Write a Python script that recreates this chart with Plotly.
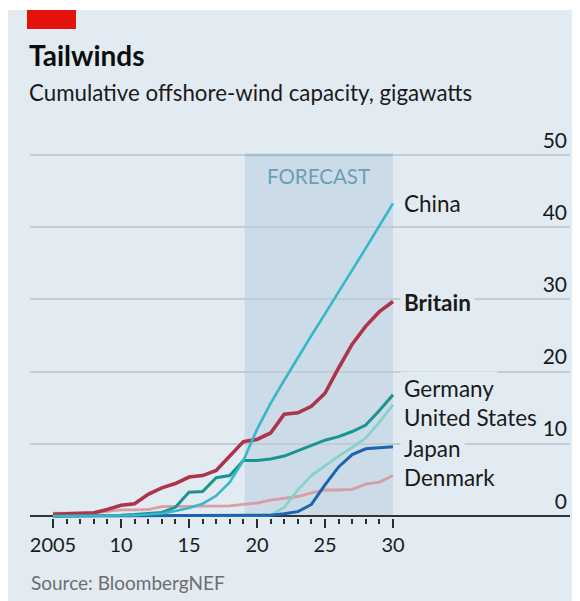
import plotly.graph_objects as go

# ---------------- data ----------------
years = list(range(2005, 2031))

britain = [0.25, 0.3, 0.35, 0.45, 0.9, 1.5, 1.7, 3.0, 3.9, 4.5, 5.4, 5.6, 6.3, 8.3, 10.3, 10.6,
           11.5, 14.1, 14.3, 15.2, 17.0, 20.5, 23.8, 26.3, 28.3, 29.7]
china = [0.0, 0.0, 0.0, 0.0, 0.0, 0.05, 0.1, 0.2, 0.35, 0.7, 1.1, 1.7, 2.8, 4.7, 7.7, 12.0,
         15.6, 18.8, 22.0, 25.0, 28.0, 31.0, 34.0, 37.1, 40.2, 43.3]
germany = [0.0, 0.0, 0.0, 0.0, 0.05, 0.1, 0.2, 0.3, 0.5, 1.2, 3.3, 3.4, 5.3, 5.6, 7.7, 7.7,
           7.9, 8.3, 9.0, 9.8, 10.5, 11.0, 11.7, 12.6, 14.6, 16.8]
united_states = [0.0, 0.0, 0.0, 0.0, 0.0, 0.0, 0.0, 0.0, 0.0, 0.0, 0.0, 0.0, 0.03, 0.03, 0.03, 0.03,
                 0.1, 1.2, 3.6, 5.6, 7.0, 8.3, 9.5, 10.8, 13.0, 15.4]
japan = [0.0, 0.0, 0.0, 0.0, 0.0, 0.02, 0.02, 0.03, 0.05, 0.05, 0.05, 0.05, 0.05, 0.06, 0.08, 0.08,
         0.1, 0.3, 0.6, 1.6, 4.3, 6.8, 8.5, 9.3, 9.5, 9.6]
denmark = [0.4, 0.4, 0.4, 0.4, 0.65, 0.85, 0.85, 0.9, 1.3, 1.3, 1.3, 1.3, 1.3, 1.4, 1.6, 1.8,
           2.2, 2.5, 2.7, 3.2, 3.6, 3.6, 3.7, 4.4, 4.7, 5.6]

series_names = ["Denmark", "United States", "Japan", "Germany", "Britain", "China"]
series_values = [denmark, united_states, japan, germany, britain, china]

forecast_start = 2019.1
forecast_end = 2030
x_tick_vals = [2005, 2010, 2015, 2020, 2025, 2030]
x_tick_text = ["2005", "10", "15", "20", "25", "30"]
y_tick_vals = [0, 10, 20, 30, 40, 50]

# ---------------- styling ----------------
FONT = "Lato, 'Noto Sans', sans-serif"
PANEL = "#e2ebf2"
colors = {
    "Denmark": "#d79ea6",
    "United States": "#84d3c6",
    "Japan": "#1c64ad",
    "Germany": "#1a9490",
    "Britain": "#ad3449",
    "China": "#35b8c9",
}
widths = {"Denmark": 2.8, "United States": 2.6, "Japan": 3.0, "Germany": 3.0,
          "Britain": 3.6, "China": 2.6}
# label placement (data-unit y of label centres)
label_y = {"China": 43.35, "Britain": 29.6, "Germany": 17.7, "United States": 13.6,
           "Japan": 9.4, "Denmark": 5.4}

W_FIG, H_FIG = 580, 601
OFF = 8  # page body margin; page pixel p -> figure pixel p - OFF
# plot area in page pixels
PL, PR, PT, PB = 30, 570, 115, 518
L = PL - OFF
R = W_FIG - (PR - OFF)
T = PT - OFF
B = H_FIG - (PB - OFF)
PW = W_FIG - L - R
PH = H_FIG - T - B
px_per_year = 13.6
px_per_unit = 7.22
x0_px = 53   # page pixel of 2005
y0_px = 516  # page pixel of value 0
xmin = 2005 - (x0_px - PL) / px_per_year
xmax = 2005 + (PR - x0_px) / px_per_year
ymax = (y0_px - PT) / px_per_unit
ymin = -(PB - y0_px) / px_per_unit


def paper_x(p):
    return (p - PL) / PW


def paper_y(p):
    return (PB - p) / PH


fig = go.Figure()

for name, vals in zip(series_names, series_values):
    fig.add_trace(go.Scatter(
        x=years, y=vals, mode="lines", name=name,
        line=dict(color=colors[name], width=widths[name]),
        hoverinfo="skip", showlegend=False,
    ))

shapes = [
    # panel background
    dict(type="rect", xref="paper", yref="paper",
         x0=paper_x(8), x1=paper_x(600), y0=paper_y(640), y1=paper_y(10),
         fillcolor=PANEL, line=dict(width=0), layer="below"),
    # forecast shading
    dict(type="rect", xref="x", yref="y", x0=forecast_start, x1=forecast_end, y0=0, y1=50,
         fillcolor="#cbdbe7", line=dict(width=0), layer="below"),
    dict(type="line", xref="x", yref="y", x0=forecast_start, x1=forecast_end, y0=50, y1=50,
         line=dict(color="#a3c0d3", width=2.5), layer="above"),
    # red tag
    dict(type="rect", xref="paper", yref="paper",
         x0=paper_x(27), x1=paper_x(76), y0=paper_y(29), y1=paper_y(10),
         fillcolor="#e3120b", line=dict(width=0), layer="above"),
]

annotations = [
    dict(text="<b>Tailwinds</b>", xref="paper", yref="paper", x=paper_x(27), y=paper_y(55),
         xanchor="left", yanchor="middle", showarrow=False,
         font=dict(family=FONT, size=28, color="#0d0d0d")),
    dict(text="Cumulative offshore-wind capacity, gigawatts", xref="paper", yref="paper",
         x=paper_x(27), y=paper_y(93), xanchor="left", yanchor="middle", showarrow=False,
         font=dict(family=FONT, size=22.3, color="#1a1a1a")),
    dict(text="Source: BloombergNEF", xref="paper", yref="paper",
         x=paper_x(29), y=paper_y(582), xanchor="left", yanchor="middle", showarrow=False,
         font=dict(family=FONT, size=19, color="#6e6e6e")),
    dict(text="FORECAST", xref="x", yref="y", x=(forecast_start + forecast_end) / 2,
         y=(y0_px - 176) / px_per_unit, xanchor="center", yanchor="middle", showarrow=False,
         font=dict(family=FONT, size=20.5, color="#6a9fbb")),
]

for name in series_names:
    txt = "<b>%s</b>" % name if name == "Britain" else name
    annotations.append(dict(
        text=txt, xref="x", yref="y", x=forecast_end, y=label_y[name], xshift=7,
        xanchor="left", yanchor="middle", showarrow=False, bgcolor=PANEL, borderpad=3,
        font=dict(family=FONT, size=22.5, color="#1a1a1a"),
    ))

fig.update_layout(
    width=W_FIG, height=H_FIG,
    margin=dict(l=L, r=R, t=T, b=B, pad=0),
    paper_bgcolor="white", plot_bgcolor="rgba(0,0,0,0)",
    shapes=shapes, annotations=annotations,
    font=dict(family=FONT),
    xaxis=dict(
        range=[xmin, xmax], showgrid=False, zeroline=False, showline=False,
        tickmode="array", tickvals=x_tick_vals, ticktext=x_tick_text,
        ticks="outside", ticklen=9, tickwidth=2, tickcolor="#2b2b2b",
        tickfont=dict(family=FONT, size=20, color="#1a1a1a"),
        minor=dict(ticks="outside", tickmode="array",
                   tickvals=[y for y in years if y % 5 != 0],
                   ticklen=5, tickwidth=2, tickcolor="#2b2b2b", showgrid=False),
        automargin=False, fixedrange=True,
    ),
    yaxis=dict(
        range=[ymin, ymax], side="right", tickmode="array", tickvals=y_tick_vals,
        ticklabelposition="inside top", ticks="",
        showgrid=True, gridcolor="#c2ccd5", gridwidth=1.6,
        zeroline=True, zerolinecolor="#333333", zerolinewidth=2,
        showline=False,
        tickfont=dict(family=FONT, size=21, color="#1a1a1a"),
        automargin=False, fixedrange=True,
    ),
)

fig.write_html("out.html")
